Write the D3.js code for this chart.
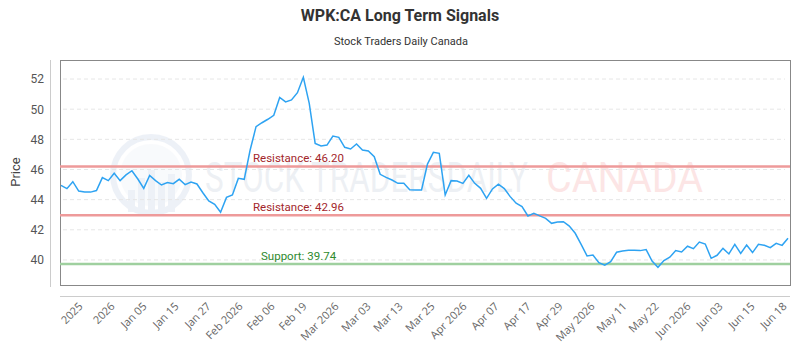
<!DOCTYPE html>
<html>
<head>
<meta charset="utf-8">
<script src="https://cdn.jsdelivr.net/npm/d3@7"></script>
<style>
  body { margin: 0; background: #fff; }
  svg { display: block; }
</style>
</head>
<body>
<div id="chart"></div>
<script>
var svgWidth = 800;
var svgHeight = 350;

// closing prices, one per session
var prices = [
  44.95, 44.73, 45.19, 44.57, 44.50, 44.50, 44.60, 45.46, 45.26, 45.75,
  45.26, 45.64, 45.92, 45.37, 44.75, 45.61, 45.26, 44.97, 45.13, 45.06,
  45.35, 45.00, 45.17, 45.04, 44.46, 43.91, 43.69, 43.16, 44.15, 44.31,
  45.41, 45.35, 47.29, 48.84, 49.10, 49.33, 49.59, 50.78, 50.48, 50.61,
  51.09, 52.11, 50.39, 47.73, 47.56, 47.62, 48.22, 48.13, 47.47, 47.36,
  47.69, 47.29, 47.23, 46.85, 45.68, 45.48, 45.30, 45.08, 45.08, 44.66,
  44.64, 44.64, 46.36, 47.14, 47.07, 44.31, 45.26, 45.24, 45.08, 45.61,
  45.08, 44.75, 44.09, 44.71, 45.02, 44.73, 44.20, 43.76, 43.54, 42.92,
  43.09, 42.92, 42.76, 42.43, 42.52, 42.54, 42.25, 41.77, 41.04, 40.27,
  40.33, 39.82, 39.65, 39.89, 40.51, 40.60, 40.64, 40.64, 40.62, 40.69,
  39.93, 39.51, 39.96, 40.18, 40.62, 40.53, 40.91, 40.75, 41.19, 41.06,
  40.11, 40.31, 40.77, 40.40, 41.04, 40.44, 40.99, 40.49, 41.04, 40.97,
  40.82, 41.10, 40.97, 41.44
];

var xLabels = ["2025", "2026", "Jan 05", "Jan 15", "Jan 27", "Feb 2026", "Feb 06", "Feb 19",
  "Mar 2026", "Mar 03", "Mar 13", "Mar 25", "Apr 2026", "Apr 07", "Apr 17", "Apr 29",
  "May 2026", "May 11", "May 22", "Jun 2026", "Jun 03", "Jun 15", "Jun 18"];

var yTicks = [40, 42, 44, 46, 48, 50, 52];

var levelNames = ["Resistance", "Resistance", "Support"];
var levelValues = [46.20, 42.96, 39.74];

var plot = { left: 60, right: 790, top: 60, bottom: 285 };

var svg = d3.select("#chart")
  .append("svg")
  .attr("width", svgWidth)
  .attr("height", svgHeight);

// titles
svg.append("text")
  .attr("x", 400)
  .attr("y", 21)
  .attr("text-anchor", "middle")
  .style("font-family", "Roboto, sans-serif")
  .style("font-weight", "bold")
  .style("font-size", "16px")
  .style("fill", "#333")
  .text("WPK:CA Long Term Signals");

svg.append("text")
  .attr("x", 401)
  .attr("y", 45)
  .attr("text-anchor", "middle")
  .style("font-family", "Roboto, sans-serif")
  .style("font-size", "11px")
  .style("fill", "#333")
  .text("Stock Traders Daily Canada");

// scales
var xScale = d3.scalePoint()
  .domain(d3.range(prices.length))
  .range([61, 788]);

var yScale = d3.scaleLinear()
  .domain([38.34, 53.26])
  .range([plot.bottom, plot.top]);

var labelScale = d3.scalePoint()
  .domain(xLabels)
  .range([82, 786]);

// watermark
var wm = svg.append("g").attr("opacity", 0.08);
wm.append("circle")
  .attr("cx", 151).attr("cy", 175).attr("r", 38)
  .attr("fill", "none").attr("stroke", "#2a5aa8").attr("stroke-width", 6);
wm.append("circle")
  .attr("cx", 151).attr("cy", 175).attr("r", 31)
  .attr("fill", "#2a5aa8").attr("opacity", 0.35);
[[128, 190], [138, 178], [148, 170], [158, 182], [168, 174]].forEach(function(b) {
  wm.append("rect")
    .attr("x", b[0]).attr("y", b[1])
    .attr("width", 7).attr("height", 212 - b[1])
    .attr("fill", "#2a5aa8");
});
wm.append("text")
  .attr("x", 205).attr("y", 192)
  .attr("textLength", 323)
  .attr("lengthAdjust", "spacingAndGlyphs")
  .style("font-family", "Roboto, sans-serif")
  .style("font-size", "42px")
  .style("fill", "#2a4a7a")
  .text("STOCK TRADERSDAILY");
svg.append("text")
  .attr("x", 546).attr("y", 192)
  .attr("textLength", 157)
  .attr("lengthAdjust", "spacingAndGlyphs")
  .attr("opacity", 0.12)
  .style("font-family", "Roboto, sans-serif")
  .style("font-size", "42px")
  .style("fill", "#e83030")
  .text("CANADA");

// grid lines
svg.append("g")
  .selectAll("line")
  .data(yTicks)
  .enter()
  .append("line")
  .attr("x1", 63)
  .attr("x2", 785)
  .attr("y1", d => yScale(d))
  .attr("y2", d => yScale(d))
  .attr("stroke", "#e6e6e6")
  .attr("stroke-dasharray", "4,3");

// plot frame
svg.append("rect")
  .attr("x", plot.left + 0.5)
  .attr("y", plot.top + 0.5)
  .attr("width", plot.right - plot.left)
  .attr("height", plot.bottom - plot.top)
  .attr("fill", "none")
  .attr("stroke", "#888");

// y axis
var yAxis = d3.axisLeft(yScale).tickValues(yTicks).tickSize(0).tickPadding(0);
var yAxisG = svg.append("g")
  .attr("transform", "translate(44, 0)")
  .call(yAxis);
yAxisG.select(".domain").remove();
yAxisG.selectAll("text")
  .style("font-family", "Roboto, sans-serif")
  .style("font-size", "12px")
  .style("fill", "#555");

svg.append("line")
  .attr("x1", 50.5).attr("x2", 50.5)
  .attr("y1", 60).attr("y2", 287)
  .attr("stroke", "#ccc");

svg.append("text")
  .attr("transform", "translate(20, 172) rotate(-90)")
  .attr("text-anchor", "middle")
  .style("font-family", "Roboto, sans-serif")
  .style("font-size", "13px")
  .style("fill", "#444")
  .text("Price");

// x axis
var xAxis = d3.axisBottom(labelScale).tickSize(0).tickPadding(0);
var xAxisG = svg.append("g")
  .attr("transform", "translate(0, 296)")
  .call(xAxis);
xAxisG.select(".domain")
  .attr("d", "M60,0.5H790")
  .attr("stroke", "#ccc");
xAxisG.selectAll("text")
  .attr("y", 0)
  .attr("dy", 0)
  .attr("transform", "translate(1, 11) rotate(-45)")
  .attr("text-anchor", "end")
  .style("font-family", "'Open Sans', sans-serif")
  .style("font-size", "11px")
  .style("fill", "#666");

// support / resistance levels
var levelColor = function(i) { return levelNames[i] === "Support" ? "#9fd09f" : "#ee9a9a"; };
var levelText = function(i) { return levelNames[i] === "Support" ? "#2e8a2e" : "#a3262b"; };

svg.append("g")
  .selectAll("line")
  .data(levelValues)
  .enter()
  .append("line")
  .attr("x1", plot.left)
  .attr("x2", plot.right)
  .attr("y1", d => yScale(d))
  .attr("y2", d => yScale(d))
  .attr("stroke", (d, i) => levelColor(i))
  .attr("stroke-width", 2.5);

svg.append("g")
  .selectAll("text")
  .data(levelValues)
  .enter()
  .append("text")
  .attr("x", (d, i) => levelNames[i] === "Support" ? 261 : 253)
  .attr("y", d => yScale(d) - 4)
  .style("font-family", "Roboto, sans-serif")
  .style("font-size", "11.5px")
  .style("fill", (d, i) => levelText(i))
  .text((d, i) => levelNames[i] + ": " + d.toFixed(2));

// price line
var line = d3.line()
  .x((d, i) => xScale(i))
  .y(d => yScale(d));

svg.append("path")
  .datum(prices)
  .attr("d", line)
  .attr("fill", "none")
  .attr("stroke", "#2ea3f2")
  .attr("stroke-width", 1.5);
</script>
</body>
</html>
